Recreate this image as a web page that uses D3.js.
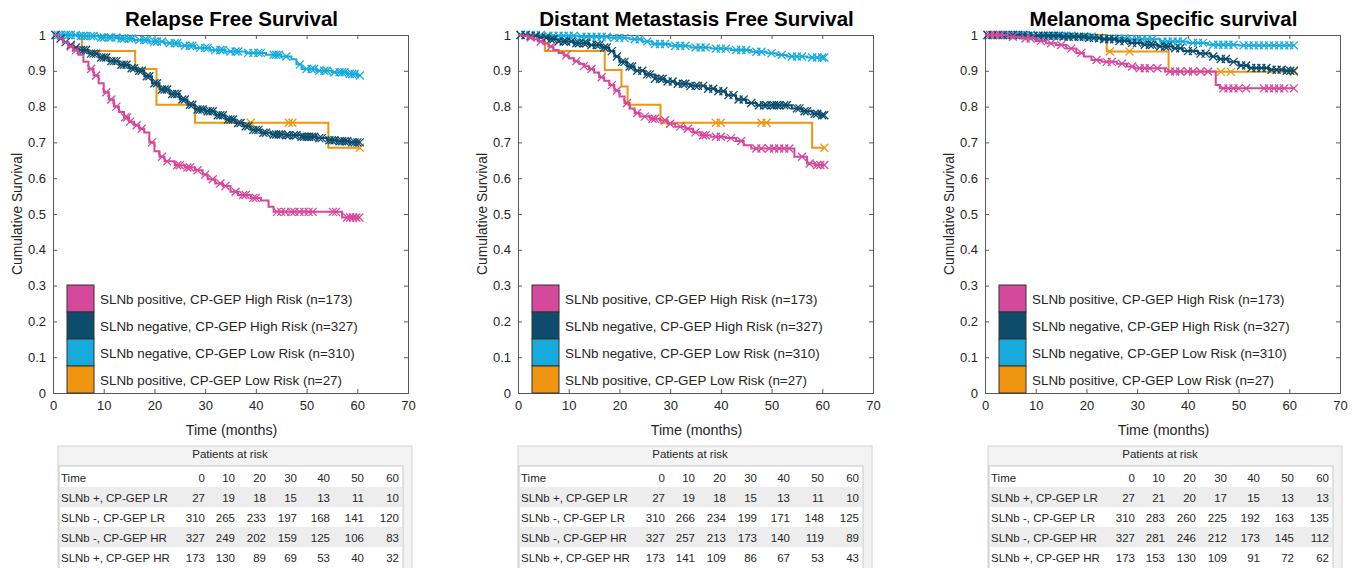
<!DOCTYPE html>
<html><head><meta charset="utf-8">
<script src="https://cdn.jsdelivr.net/npm/d3@7"></script>
<style>body{margin:0;background:#fff;} text{font-family:"Liberation Sans",Arial,sans-serif;}</style>
</head><body><svg id="c" width="1359" height="568"></svg>
<script>
// ---------- data ----------
const titles = ["Relapse Free Survival", "Distant Metastasis Free Survival", "Melanoma Specific survival"];
const seriesNames = ["SLNb positive, CP-GEP High Risk (n=173)", "SLNb negative, CP-GEP High Risk (n=327)",
                     "SLNb negative, CP-GEP Low Risk (n=310)", "SLNb positive, CP-GEP Low Risk (n=27)"];
const seriesColors = ["#d6489b", "#0d4c6b", "#17aadd", "#f0950f"];
const xTicks = [0, 10, 20, 30, 40, 50, 60, 70];
const yTicks = [0, 0.1, 0.2, 0.3, 0.4, 0.5, 0.6, 0.7, 0.8, 0.9, 1];

// Relapse free survival: steps [time, survival], censor times
const rfsPosHR = [[0,1],[1,0.99],[2,0.98],[3,0.968],[4,0.957],[5,0.945],[6,0.925],[7,0.905],[8,0.887],[9,0.865],[10,0.84],[11,0.82],[12,0.8],[13,0.785],[14,0.77],[15,0.758],[16,0.748],[17,0.738],[18,0.728],[19,0.7],[20,0.675],[21,0.66],[22,0.647],[24,0.636],[26,0.63],[28,0.622],[29.5,0.61],[30.5,0.597],[32,0.585],[33.5,0.578],[35,0.562],[36.5,0.553],[39,0.545],[41,0.538],[42.5,0.52],[43.5,0.506],[57,0.49]];
const rfsPosHRCens = [3.5,4.5,7.5,8.5,10.5,11.5,12.5,14.2,14.6,15.2,16.5,17.5,19.5,21.5,22.5,24.5,25,26.5,27,28.5,30,31.5,33,34,36,37.5,38,39.5,40,44.2,45,45.8,47,47.6,48.6,49.5,50.4,51.2,55.2,55.8,58,58.6,59.2,59.8,60.4];
const rfsNegHR = [[0,1],[1,0.99],[2,0.98],[3,0.972],[4,0.965],[5,0.958],[7,0.948],[9,0.937],[11,0.927],[13,0.917],[15,0.907],[16.5,0.9],[18,0.885],[19.5,0.865],[21,0.848],[23,0.835],[25,0.82],[26.5,0.805],[28,0.792],[30,0.787],[32,0.776],[34,0.764],[36,0.754],[37.5,0.745],[39,0.735],[41,0.727],[43,0.722],[46,0.72],[49,0.716],[52,0.712],[54,0.706],[56,0.703],[58.5,0.7]];
const rfsNegHRCens = [0.5,1.5,2.5,3.5,4.5,5.5,6,6.5,7.5,8,8.5,9.5,10,10.5,11.5,12,12.5,13.5,14,14.5,15.5,16,17,17.5,18.5,19,20,20.5,21.5,22,22.5,23.5,24,24.5,25.5,26,27,27.5,28.5,29,29.5,30.5,31,31.5,32.5,33,33.5,34.5,35,35.5,36.5,37,38,38.5,39.5,40,40.5,41.5,42,43.5,44,44.5,45,46,46.5,47.5,48,49,49.5,50,50.5,51,51.5,52.5,53,54.5,55,55.5,56.5,57,57.5,58,59,59.5,60,60.5];
const rfsNegLR = [[0,1],[5,0.997],[9,0.993],[13,0.99],[16,0.986],[19,0.982],[22,0.977],[25,0.97],[28,0.964],[31,0.958],[34,0.954],[38,0.95],[42,0.945],[45,0.94],[47,0.932],[48,0.918],[49,0.905],[52,0.9],[55,0.896],[58,0.891],[60,0.887]];
const rfsNegLRCens = [0.5,1,1.5,2.5,3,3.5,4.5,5.5,6,6.5,7.5,8,9.5,10,11,11.5,12.5,13.5,14,15,15.5,17,18,18.5,20,20.5,21.5,23,24,24.5,26,27,27.5,29,30,30.5,32,33,33.5,35,36,36.5,38.5,39.5,40.5,41,43.5,44,44.5,46,48.7,50,51,51.5,52.5,53.5,54,55.5,56.5,57,57.5,58.5,59,59.5,60.5];
const rfsPosLR = [[0,1],[5.7,0.955],[16.2,0.905],[20.4,0.805],[28,0.755],[54.3,0.685]];
const rfsPosLRCens = [39,46.5,47.2,60.5];

// Distant metastasis free survival
const dmfsPosHR = [[0,1],[1,0.997],[2,0.993],[3,0.988],[4,0.982],[5,0.976],[6,0.968],[7,0.958],[8,0.95],[9,0.943],[10,0.935],[11,0.927],[12,0.92],[13,0.913],[14,0.905],[15,0.895],[16,0.882],[17,0.872],[18,0.86],[19,0.845],[20,0.828],[21,0.81],[22,0.795],[23,0.782],[24,0.772],[26,0.766],[28,0.762],[29.5,0.752],[31,0.744],[33,0.738],[34.5,0.728],[36,0.72],[38,0.716],[41,0.712],[43,0.704],[44.5,0.692],[46,0.683],[54.5,0.66],[57,0.641],[58.5,0.637]];
const dmfsPosHRCens = [2.5,4.5,6.5,9.5,11.5,13,14.5,16.5,18.5,19.5,21.5,23.5,25,26.5,27,29,30,32,33.5,35,36.5,37,39,40,42,44,47,48,49.5,50.5,51.5,52.5,53.5,56,57.5,59,59.6,60.4];
const dmfsNegHR = [[0,1],[2,0.997],[4,0.993],[6,0.988],[8,0.982],[11,0.977],[14,0.972],[16.5,0.965],[18,0.955],[19,0.94],[20,0.925],[21.5,0.912],[23,0.9],[25,0.89],[27,0.878],[29,0.87],[31,0.864],[34,0.858],[37,0.85],[39,0.843],[41,0.832],[43,0.82],[45,0.81],[47,0.804],[54,0.795],[56,0.787],[58,0.78],[59.5,0.776]];
const dmfsNegHRCens = [0.5,1.5,2.5,3.5,4.5,5.5,6.5,7,8,9,9.5,10.5,11.5,12,13,13.5,14.5,15.5,16,17,17.5,18.5,19.5,20.5,21,22,22.5,23.5,24.5,25.5,26,27,28,28.5,29.5,30.5,31.5,32.5,33,34,35,35.5,36.5,37.5,38.5,39.5,40.5,41.5,42.5,43.5,44.5,46,47.5,48.5,49,50,50.5,51,51.5,52.5,53,55,55.5,56.5,57,58.5,59,60,60.4];
const dmfsNegLR = [[0,1],[5,0.998],[12,0.995],[18,0.992],[22,0.988],[24.5,0.982],[26.5,0.975],[30,0.97],[34,0.965],[38,0.962],[42,0.958],[46,0.953],[49,0.949],[51,0.944],[53,0.94],[57,0.937]];
const dmfsNegLRCens = [0.5,1.5,2.5,3.5,4.5,6,7,8,9,10,11,12.5,13.5,14.5,15.5,16.5,17.5,19,20,21,23,24,25.5,27,28,29,31,32,33,35,36,37,39,40,41,43,44,45,47,48,50,52,54,55,56,58,59,60,60.4];
const dmfsPosLR = [[0,1],[5.3,0.955],[17.1,0.902],[20.4,0.856],[21.6,0.805],[28.1,0.755],[58,0.685]];
const dmfsPosLRCens = [39,40,48,49,60.4];

// Melanoma specific survival
const mssPosHR = [[0,1],[4.5,0.995],[7,0.99],[10,0.983],[12,0.977],[14,0.972],[16,0.962],[18,0.95],[19.5,0.94],[21,0.93],[23,0.925],[26,0.92],[28,0.912],[29.5,0.907],[35.5,0.898],[45.5,0.86],[46.3,0.851]];
const mssPosHRCens = [1,2,3,5.5,8,9,11,13,15,17,19,22,24,25,27,29,30.5,31.5,32.5,34,36.5,37.5,38.5,40,41,42.5,44,47,48,49,50,51.5,55,56,57,58,59,60.9];
const mssNegHR = [[0,1],[8,0.998],[15,0.995],[20,0.992],[23,0.988],[26,0.983],[28.5,0.978],[31,0.973],[34,0.968],[37,0.963],[39,0.955],[42,0.948],[44.5,0.94],[46,0.933],[48,0.925],[50,0.915],[52,0.908],[56,0.903],[59,0.9]];
const mssNegHRCens = [0.5,1.5,2.5,3.5,4.5,5.5,6.5,7.5,8.5,9.5,10.5,11.5,12.5,13.5,14.5,15.5,16.5,17.5,18.5,19.5,20.5,21.5,22.5,23.5,24.5,25.5,26.5,27.5,29,30,31.5,32.5,33,34.5,35.5,36,37.5,38.5,40,41,42.5,43.5,45,46.5,47.5,49,50.5,51.5,52.5,53.5,54.5,55.5,56.5,57.5,58.5,59.5,60.2,60.9];
const mssNegLR = [[0,1],[10,0.998],[18,0.995],[21.5,0.99],[28,0.988],[34.5,0.982],[40,0.978],[44,0.973],[50,0.971]];
const mssNegLRCens = [0.5,1.5,3,4,5,6,7,8,9,11,12,13,14,15,16,17,19,20,21,22.5,23.5,24.5,25.5,26.5,27.5,29,30,31,32,33,35,36,37,38,39,41,42,43,45,46,47,48,49,51,52,53,54,55,56,57,58,59,60,60.9];
const mssPosLR = [[0,1],[24,0.954],[36.2,0.897]];
const mssPosLRCens = [24.6,28.5,46.5,48.5,60.9];

// Patients at risk tables
const riskTitle = "Patients at risk";
const riskTimes = [0, 10, 20, 30, 40, 50, 60];
const riskLabels = ["SLNb +, CP-GEP LR", "SLNb -, CP-GEP LR", "SLNb -, CP-GEP HR", "SLNb +, CP-GEP HR"];
const rfsRisk = [[27,19,18,15,13,11,10],[310,265,233,197,168,141,120],[327,249,202,159,125,106,83],[173,130,89,69,53,40,32]];
const dmfsRisk = [[27,19,18,15,13,11,10],[310,266,234,199,171,148,125],[327,257,213,173,140,119,89],[173,141,109,86,67,53,43]];
const mssRisk = [[27,21,20,17,15,13,13],[310,283,260,225,192,163,135],[327,281,246,212,173,145,112],[173,153,130,109,91,72,62]];

// ---------- layout ----------
const panels = [
  {title: titles[0], x0: 53, tx: 58, curves: [[rfsPosHR, rfsPosHRCens],[rfsNegHR, rfsNegHRCens],[rfsNegLR, rfsNegLRCens],[rfsPosLR, rfsPosLRCens]], risk: rfsRisk},
  {title: titles[1], x0: 518, tx: 518, curves: [[dmfsPosHR, dmfsPosHRCens],[dmfsNegHR, dmfsNegHRCens],[dmfsNegLR, dmfsNegLRCens],[dmfsPosLR, dmfsPosLRCens]], risk: dmfsRisk},
  {title: titles[2], x0: 985, tx: 988, curves: [[mssPosHR, mssPosHRCens],[mssNegHR, mssNegHRCens],[mssNegLR, mssNegLRCens],[mssPosLR, mssPosLRCens]], risk: mssRisk}
];
const plotW = 355, plotTop = 35, plotBottom = 393;
const axisCol = "#5a5a5a", textCol = "#262626";
const svg = d3.select("#c");

panels.forEach(p => {
  const g = svg.append("g");
  const x = d3.scaleLinear().domain([0, 70]).range([p.x0, p.x0 + plotW]);
  const y = d3.scaleLinear().domain([0, 1]).range([plotBottom, plotTop]);

  const ax = g.append("g").attr("transform", `translate(0,${plotBottom})`)
    .call(d3.axisBottom(x).tickValues(xTicks).tickSize(-4).tickPadding(8).tickFormat(d3.format("d")));
  const axT = g.append("g").attr("transform", `translate(0,${plotTop})`)
    .call(d3.axisTop(x).tickValues(xTicks).tickSize(-4).tickFormat(""));
  const ay = g.append("g").attr("transform", `translate(${p.x0},0)`)
    .call(d3.axisLeft(y).tickValues(yTicks).tickSize(-4).tickPadding(7).tickFormat(d => d === 0 || d === 1 ? d3.format("d")(d) : d3.format(".1f")(d)));
  const ayR = g.append("g").attr("transform", `translate(${p.x0 + plotW},0)`)
    .call(d3.axisRight(y).tickValues(yTicks).tickSize(-4).tickFormat(""));
  [ax, axT, ay, ayR].forEach(a => {
    a.selectAll(".domain").attr("stroke", axisCol);
    a.selectAll(".tick line").attr("stroke", axisCol);
    a.selectAll("text").attr("fill", textCol).style("font-size", "13px").style("font-family", "'Liberation Sans',Arial,sans-serif");
  });

  g.append("text").attr("x", p.x0 + plotW / 2 + 1).attr("y", 26).attr("text-anchor", "middle")
    .style("font-size", "20.5px").style("font-weight", "bold").attr("fill", "#000").text(p.title);
  g.append("text").attr("x", p.x0 + plotW / 2 + 1).attr("y", 435).attr("text-anchor", "middle")
    .style("font-size", "14.3px").attr("fill", textCol).text("Time (months)");
  g.append("text").attr("transform", `translate(${p.x0 - 31},${(plotTop + plotBottom) / 2}) rotate(-90)`)
    .attr("text-anchor", "middle").style("font-size", "13.8px").attr("fill", textCol).text("Cumulative Survival");

  const line = d3.line().x(d => x(d[0])).y(d => y(d[1])).curve(d3.curveStepAfter);
  const order = [3, 2, 1, 0];
  order.forEach(i => {
    const steps = p.curves[i][0], cens = p.curves[i][1];
    const end = Math.max(steps[steps.length - 1][0], d3.max(cens));
    const pts = steps.concat([[end, steps[steps.length - 1][1]]]);
    const surv = t => { let s = 1; steps.forEach(d => { if (d[0] <= t) s = d[1]; }); return s; };
    g.append("path").datum(pts).attr("d", line).attr("fill", "none")
      .attr("stroke", seriesColors[i]).attr("stroke-width", 2);
    g.selectAll(null).data(cens).enter().append("path")
      .attr("transform", t => `translate(${x(t)},${y(surv(t))})`)
      .attr("d", "M-4,-4L4,4M-4,4L4,-4")
      .attr("stroke", seriesColors[i]).attr("stroke-width", 1.3).attr("fill", "none");
  });

  const lg = g.append("g");
  seriesNames.forEach((n, i) => {
    const yy = 285 + i * 27;
    lg.append("rect").attr("x", p.x0 + 14).attr("y", yy).attr("width", 27).attr("height", 27)
      .attr("fill", seriesColors[i]).attr("stroke", "#333").attr("stroke-width", 1);
    lg.append("text").attr("x", p.x0 + 47).attr("y", yy + 19).style("font-size", "13.4px")
      .attr("fill", textCol).text(n);
  });

  const tx = p.tx;
  const tg = g.append("g");
  tg.append("rect").attr("x", tx).attr("y", 446).attr("width", 354).attr("height", 130)
    .attr("fill", "#f3f3f3").attr("stroke", "#d4d4d4");
  tg.append("text").attr("x", tx + 172).attr("y", 458).attr("text-anchor", "middle")
    .style("font-size", "11.5px").attr("fill", textCol).text(riskTitle);
  tg.append("rect").attr("x", tx + 1).attr("y", 466).attr("width", 344).attr("height", 110)
    .attr("fill", "#fff").attr("stroke", "#c8c8c8");
  const colR = [147, 177, 208, 239, 272, 306, 341];
  const rows = [["Time"].concat(riskTimes)].concat(p.risk.map((r, i) => [riskLabels[i]].concat(r)));
  rows.forEach((r, ri) => {
    const ry = 467 + ri * 20;
    if (ri % 2 === 1) tg.append("rect").attr("x", tx + 2).attr("y", ry).attr("width", 342).attr("height", 20).attr("fill", "#ededed");
    tg.append("text").attr("x", tx + 3).attr("y", ry + 15).style("font-size", "11.5px").attr("fill", textCol).text(r[0]);
    r.slice(1).forEach((v, ci) => {
      tg.append("text").attr("x", tx + colR[ci]).attr("y", ry + 15).attr("text-anchor", "end")
        .style("font-size", "11.5px").attr("fill", textCol).text(v);
    });
  });
});
</script></body></html>
